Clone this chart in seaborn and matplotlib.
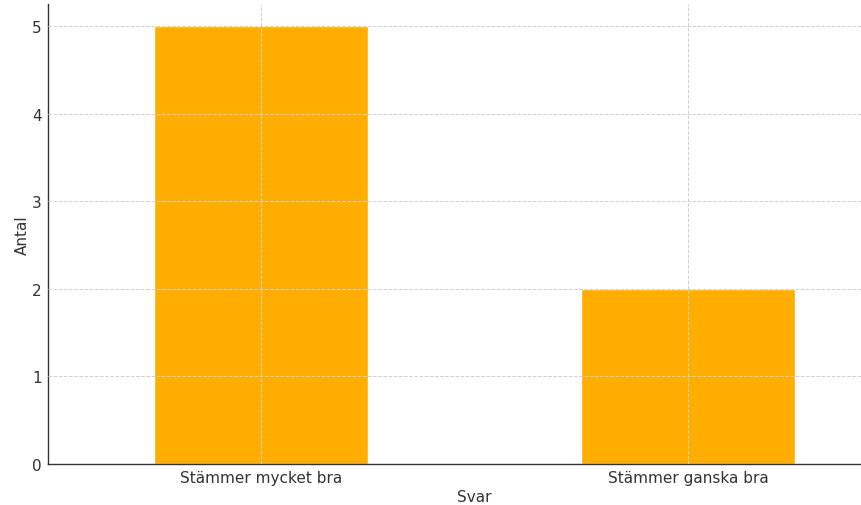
import matplotlib
matplotlib.use("Agg")
import matplotlib.pyplot as plt
import seaborn as sns
import pandas as pd

categories = ["Stämmer mycket bra", "Stämmer ganska bra"]
counts = [5, 2]

df = pd.DataFrame({"Svar": categories, "Antal": counts})

sns.set_style("white")
fig = plt.figure(figsize=(8.61, 5.06), dpi=100)
ax = fig.add_axes([47.5 / 861, 41 / 506, 854 / 861, 460 / 506])

sns.barplot(data=df, x="Svar", y="Antal", color="#FFAE00", saturation=1,
            width=0.5, ax=ax)
ax.set_xlim(-0.5, 1.5)
ax.set_ylim(0, 5.25)
ax.set_yticks(range(0, 6))
for b in ax.patches:
    b.set_zorder(1)
ax.grid(True, linestyle="--", color="#d0d0d0", linewidth=0.7, zorder=2)
ax.set_axisbelow(False)
ax.spines["top"].set_visible(False)
ax.spines["right"].set_visible(False)
for s in ["left", "bottom"]:
    ax.spines[s].set_color("#333333")
    ax.spines[s].set_linewidth(1.0)
ax.tick_params(axis="both", colors="#333333", labelsize=11, length=2, pad=2)
ax.set_xlabel("Svar", fontsize=11, color="#333333", labelpad=3)
ax.set_ylabel("Antal", fontsize=11, color="#333333", labelpad=2)

fig.savefig("out.png", dpi=100)
